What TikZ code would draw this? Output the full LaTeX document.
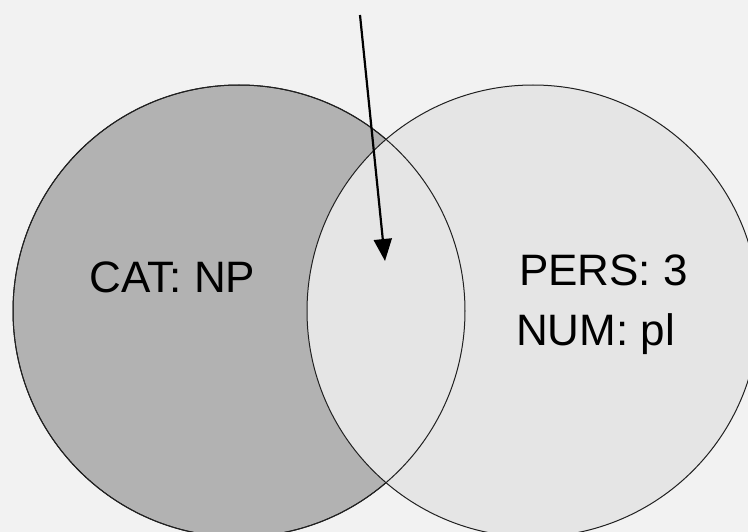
\documentclass[tikz,border=0pt]{standalone}
\usepackage{fontspec}
\setmainfont{Liberation Sans}
\usetikzlibrary{arrows.meta}
\definecolor{bg}{HTML}{F2F2F2}
\definecolor{leftfill}{HTML}{B2B2B2}
\definecolor{rightfill}{HTML}{E5E5E5}
\definecolor{edge}{HTML}{202020}
\tikzset{
  setcircle/.style={circle, minimum size=452pt, inner sep=0pt, draw=edge, line width=1pt},
  label/.style={anchor=base, inner sep=0pt, font=\fontsize{44}{50}\selectfont, text=black},
  pointer/.style={line width=2.2pt, -{Triangle[length=22pt,width=18pt]}}
}
\begin{document}
\begin{tikzpicture}[x=1pt,y=-1pt]
  \fill[bg] (0,0) rectangle (748,532);
  \useasboundingbox (0,0) rectangle (748,532);
  \node[setcircle, fill=leftfill] (L) at (239,311) {};
  \node[setcircle, fill=rightfill] (R) at (533,311) {};
  \node[setcircle] (Lo) at (239,311) {};
  \node[label] (cat) at (172.5,292) {CAT: NP};
  \node[label] (pers) at (603.5,286) {PERS: 3};
  \node[label] (num) at (595.5,345) {NUM: pl};
  \coordinate (start) at (360,15);
  \coordinate (tip) at (385,261);
  \draw[pointer] (start) -- (tip);
\end{tikzpicture}
\end{document}
